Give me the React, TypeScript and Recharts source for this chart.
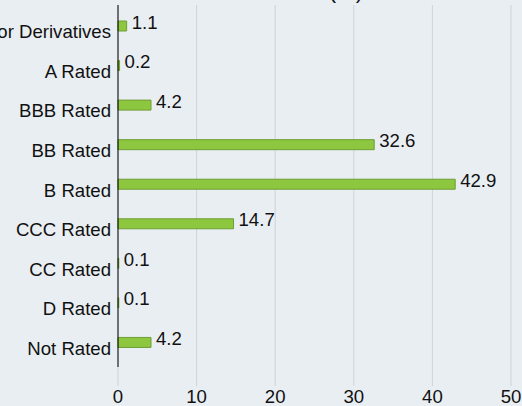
import { Bar, BarChart, CartesianGrid, LabelList, XAxis, YAxis } from "recharts"

const categories = [
  "Collateral for Derivatives",
  "A Rated",
  "BBB Rated",
  "BB Rated",
  "B Rated",
  "CCC Rated",
  "CC Rated",
  "D Rated",
  "Not Rated",
]

const values = [1.1, 0.2, 4.2, 32.6, 42.9, 14.7, 0.1, 0.1, 4.2]

const xTicks = [0, 10, 20, 30, 40, 50]

const data = categories.map((name, i) => ({ name, value: values[i] }))

const FONT = "'Liberation Sans', Arial, Helvetica, sans-serif"
const TEXT = "#111"
const FS = 18.6

const CategoryTick = ({ x, y, payload }: any) => (
  <text x={x} y={y + 6} dy="0.355em" textAnchor="end" fontSize={FS} fontFamily={FONT} fill={TEXT}>
    {payload.value}
  </text>
)

const ValueLabel = ({ x, y, width, height, value }: any) => (
  <text
    x={x + width + 5}
    y={y + height / 2 - 4}
    dy="0.355em"
    textAnchor="start"
    fontSize={FS}
    fontFamily={FONT}
    fill={TEXT}
  >
    {value}
  </text>
)

export default function App() {
  return (
    <div
      style={{
        position: "absolute",
        left: 0,
        top: 0,
        width: 522,
        height: 406,
        overflow: "hidden",
        background: "#e9eef2",
        fontFamily: FONT,
      }}
    >
      <div
        style={{
          position: "absolute",
          right: 159,
          top: -20,
          fontSize: 22,
          lineHeight: "22px",
          color: TEXT,
          whiteSpace: "nowrap",
        }}
      >
        (%)
      </div>
      <div style={{ position: "absolute", left: -200, top: 0 }}>
        <BarChart
          width={722}
          height={406}
          data={data}
          layout="vertical"
          margin={{ top: 5, right: 11, bottom: 0, left: 0 }}
        >
          <CartesianGrid horizontal={false} stroke="#cfd3d7" />
          <XAxis
            type="number"
            domain={[0, 50]}
            ticks={xTicks}
            height={39}
            axisLine={false}
            tickLine={{ stroke: "#cfd3d7" }}
            tickSize={19}
            tickMargin={4}
            tick={{ fontSize: FS, fontFamily: FONT, fill: TEXT }}
            interval={0}
          />
          <YAxis
            type="category"
            dataKey="name"
            width={318}
            padding={{ top: 1, bottom: 5 }}
            axisLine={{ stroke: "#000" }}
            tickLine={false}
            tickSize={0}
            tickMargin={7}
            tick={<CategoryTick />}
            interval={0}
          />
          <Bar
            dataKey="value"
            fill="#8dc63f"
            stroke="#6f9e35"
            strokeWidth={1}
            barSize={10}
            isAnimationActive={false}
          >
            <LabelList dataKey="value" content={<ValueLabel />} />
          </Bar>
        </BarChart>
      </div>
    </div>
  )
}
